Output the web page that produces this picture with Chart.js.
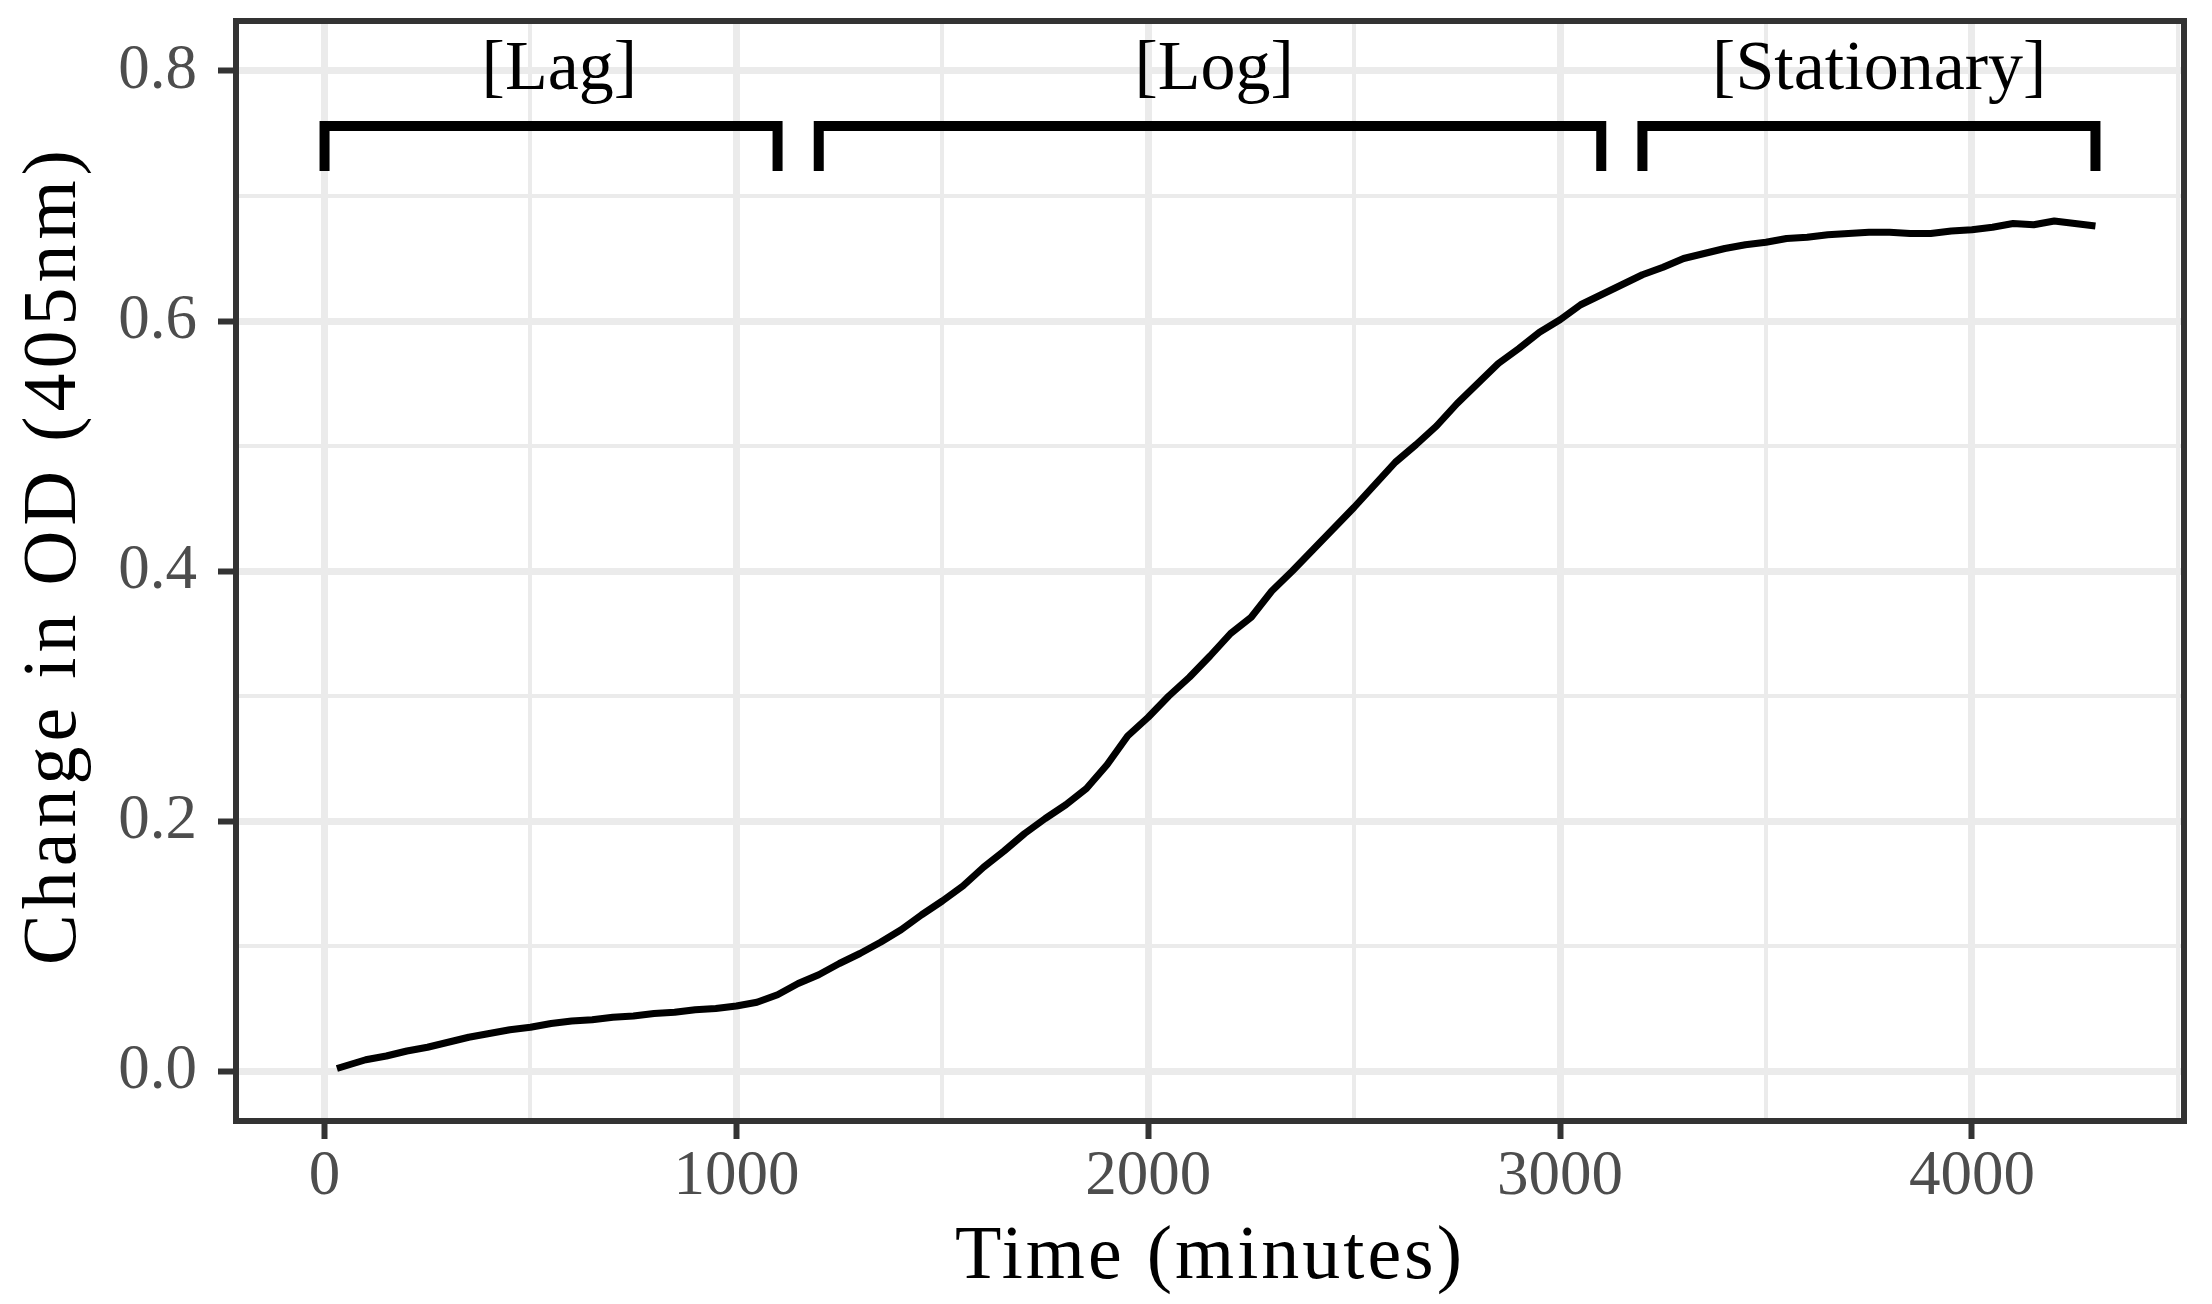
<!DOCTYPE html>
<html>
<head>
<meta charset="utf-8">
<script src="https://cdn.jsdelivr.net/npm/chart.js@4/dist/chart.umd.min.js"></script>
<style>
  html, body { margin: 0; padding: 0; background: #ffffff; }
  #wrap { width: 2212px; height: 1304px; }
</style>
</head>
<body>
<div id="wrap"><canvas id="c" width="2212" height="1304"></canvas></div>
<script>
// ---- data ----
const timeMinutes = [30, 50, 100, 150, 200, 250, 300, 350, 400, 450, 500, 550, 600, 650, 700, 750, 800,
  850, 900, 950, 1000, 1050, 1100, 1150, 1200, 1250, 1300, 1350, 1400, 1450, 1500, 1550, 1600, 1650,
  1700, 1750, 1800, 1850, 1900, 1950, 2000, 2050, 2100, 2150, 2200, 2250, 2300, 2350, 2400, 2450,
  2500, 2550, 2600, 2650, 2700, 2750, 2800, 2850, 2900, 2950, 3000, 3050, 3100, 3150, 3200, 3250,
  3300, 3350, 3400, 3450, 3500, 3550, 3600, 3650, 3700, 3750, 3800, 3850, 3900, 3950, 4000, 4050,
  4100, 4150, 4200, 4250, 4300];
const odChange = [0.002, 0.004, 0.009, 0.012, 0.016, 0.019, 0.023, 0.027, 0.030, 0.033, 0.035, 0.038,
  0.040, 0.041, 0.043, 0.044, 0.046, 0.047, 0.049, 0.050, 0.052, 0.055, 0.061, 0.070, 0.077, 0.086,
  0.094, 0.103, 0.113, 0.125, 0.136, 0.148, 0.163, 0.176, 0.190, 0.202, 0.213, 0.226, 0.245, 0.268,
  0.283, 0.300, 0.315, 0.332, 0.350, 0.363, 0.384, 0.400, 0.417, 0.434, 0.451, 0.469, 0.487, 0.501,
  0.516, 0.534, 0.550, 0.566, 0.578, 0.591, 0.601, 0.613, 0.621, 0.629, 0.637, 0.643, 0.650, 0.654,
  0.658, 0.661, 0.663, 0.666, 0.667, 0.669, 0.670, 0.671, 0.671, 0.670, 0.670, 0.672, 0.673, 0.675,
  0.678, 0.677, 0.680, 0.678, 0.676];

const phaseLabels = ["[Lag]", "[Log]", "[Stationary]"];
const phaseStart = [0, 1200, 3200];
const phaseEnd = [1100, 3100, 4300];
const phaseLabelX = [570, 2160, 3775];
const phaseLabelY = 0.8;
const bracketTop = 0.756;
const bracketBottom = 0.72;

const xTickValues = [0, 500, 1000, 1500, 2000, 2500, 3000, 3500, 4000, 4500];
const xTickLabels = ["0", "", "1000", "", "2000", "", "3000", "", "4000", ""];
const yTickValues = [0, 0.1, 0.2, 0.3, 0.4, 0.5, 0.6, 0.7, 0.8];
const yTickLabels = ["0.0", "", "0.2", "", "0.4", "", "0.6", "", "0.8"];
const xLimits = [-215, 4515];
const yLimits = [-0.04, 0.84];

const xTitle = "Time (minutes)";
const yTitle = "Change in OD (405nm)";

// ---- build datasets ----
const curve = timeMinutes.map((t, i) => ({ x: t, y: odChange[i] }));
const bracketSets = phaseStart.map((s, i) => ({
  label: phaseLabels[i],
  data: [
    { x: s, y: bracketBottom },
    { x: s, y: bracketTop },
    { x: phaseEnd[i], y: bracketTop },
    { x: phaseEnd[i], y: bracketBottom }
  ],
  borderColor: '#000000',
  borderWidth: 10,
  pointRadius: 0,
  tension: 0,
  borderJoinStyle: 'miter',
  borderCapStyle: 'butt',
  fill: false
}));

const FONT = '"Liberation Serif", "DejaVu Serif", serif';
const isMajorTick = (c) => c.tick && c.tick.label !== '' && c.tick.label !== undefined;

// wider letter spacing on the axis titles (the reference font is spaced out)
function spaceTitle(s, spacing, shiftY) {
  if (s._titlePatched) return;
  const orig = s.drawTitle;
  s.drawTitle = function () {
    const ctx = this.ctx;
    ctx.save();
    ctx.letterSpacing = spacing;
    ctx.translate(0, shiftY);
    orig.call(this);
    ctx.restore();
  };
  s._titlePatched = true;
}

const phaseTextPlugin = {
  id: 'phaseText',
  afterDatasetsDraw(chart) {
    const { ctx, scales } = chart;
    ctx.save();
    ctx.fillStyle = '#000000';
    ctx.font = '70px ' + FONT;
    ctx.textAlign = 'center';
    ctx.textBaseline = 'middle';
    phaseLabels.forEach((txt, i) => {
      ctx.fillText(txt, scales.x.getPixelForValue(phaseLabelX[i]), scales.y.getPixelForValue(phaseLabelY));
    });
    ctx.restore();
  }
};

const panelBorderPlugin = {
  id: 'panelBorder',
  afterDatasetsDraw(chart) {
    const { ctx, chartArea: a } = chart;
    ctx.save();
    ctx.strokeStyle = '#333333';
    ctx.lineWidth = 6;
    ctx.strokeRect(a.left, a.top, a.right - a.left, a.bottom - a.top);
    ctx.restore();
  }
};

new Chart(document.getElementById('c'), {
  type: 'line',
  data: {
    datasets: [
      {
        label: 'OD',
        data: curve,
        borderColor: '#000000',
        borderWidth: 7,
        pointRadius: 0,
        tension: 0,
        borderJoinStyle: 'round',
        fill: false
      },
      ...bracketSets
    ]
  },
  options: {
    responsive: false,
    animation: false,
    devicePixelRatio: 1,
    layout: { padding: { left: 0, right: 2212 - 2184, top: 21, bottom: 0 } },
    plugins: { legend: { display: false }, tooltip: { enabled: false } },
    scales: {
      x: {
        type: 'linear',
        min: xLimits[0],
        max: xLimits[1],
        afterBuildTicks(s) { s.ticks = xTickValues.map(v => ({ value: v })); },
        afterFit(s) { s.height = 183; s.paddingLeft = 0; s.paddingRight = 0; spaceTitle(s, '3px', 0); },
        border: { display: false },
        grid: {
          color: '#ebebeb',
          lineWidth: (c) => isMajorTick(c) ? 7 : 4,
          tickColor: (c) => isMajorTick(c) ? '#333333' : 'rgba(0,0,0,0)',
          tickWidth: 6,
          tickLength: 18
        },
        ticks: {
          autoSkip: false,
          maxRotation: 0,
          minRotation: 0,
          padding: 1,
          color: '#4d4d4d',
          font: { family: FONT, size: 63 },
          callback: (v, i) => xTickLabels[i]
        },
        title: {
          display: true,
          text: xTitle,
          color: '#000000',
          font: { family: FONT, size: 76 },
          padding: { top: 0, bottom: 0 }
        }
      },
      y: {
        type: 'linear',
        min: yLimits[0],
        max: yLimits[1],
        afterBuildTicks(s) { s.ticks = yTickValues.map(v => ({ value: v })); },
        afterFit(s) { s.width = 236; s.paddingTop = 0; s.paddingBottom = 0; spaceTitle(s, '5px', -16); },
        border: { display: false },
        grid: {
          color: '#ebebeb',
          lineWidth: (c) => isMajorTick(c) ? 7 : 4,
          tickColor: (c) => isMajorTick(c) ? '#333333' : 'rgba(0,0,0,0)',
          tickWidth: 6,
          tickLength: 18
        },
        ticks: {
          autoSkip: false,
          padding: 21,
          color: '#4d4d4d',
          font: { family: FONT, size: 63 },
          callback: (v, i) => yTickLabels[i]
        },
        title: {
          display: true,
          text: yTitle,
          color: '#000000',
          font: { family: FONT, size: 76 },
          padding: { top: 9, bottom: 0 }
        }
      }
    }
  },
  plugins: [phaseTextPlugin, panelBorderPlugin]
});
</script>
</body>
</html>
